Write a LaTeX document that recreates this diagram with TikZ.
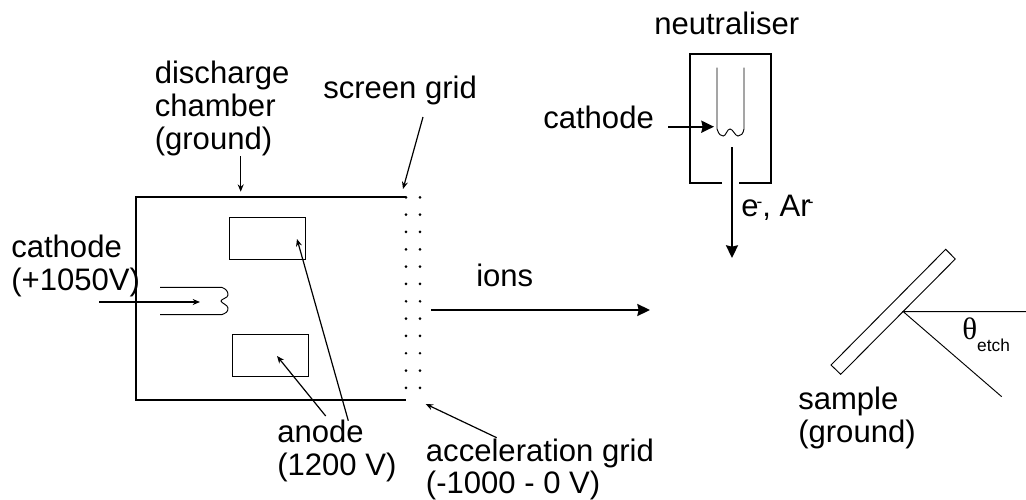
\documentclass[tikz,border=0pt]{standalone}
\usepackage{fontspec}
\setmainfont{Liberation Sans}
\newfontfamily\thetafont{Liberation Serif}
\usetikzlibrary{arrows.meta}
\newcommand{\chargemark}{\raisebox{6.5pt}{\fontsize{13}{13}\selectfont -}}
\tikzset{
	lbl/.style={inner sep=0pt, anchor=base west, align=left, font=\fontsize{23.3}{24.75}\selectfont},
	wall/.style={line width=1.6pt},
	thin line/.style={line width=0.7pt},
	pointer/.style={line width=0.9pt, -{Stealth[length=5.5pt,width=4.5pt]}},
	beam/.style={line width=1.5pt, -{Stealth[length=9.5pt,width=9pt,inset=1pt]}}
}
\begin{document}
\begin{tikzpicture}[x=0.75pt, y=-0.75pt]
	\useasboundingbox (0,0) rectangle (1026,500);

	% chamber
	\draw[wall] (406,197) -- (136,197) -- (136,400) -- (406,400);
	\foreach \row in {0,...,11} {
		\fill (406,197.3+17.33*\row) circle (1.1pt);
		\fill (420,197.3+17.33*\row) circle (1.1pt);
	}
	\node[draw, thin line, minimum width=56.5pt, minimum height=31.5pt, inner sep=0pt] (anodetop) at (267.5,238) {};
	\node[draw, thin line, minimum width=57pt, minimum height=31.5pt, inner sep=0pt] (anodebot) at (270,355.3) {};
	\draw[thin line] (160,287.3) -- (221.7,287.3) .. controls (226,289) and (228,291) .. (228,295) .. controls (228,298) and (221,299) .. (221,301) .. controls (221,303) and (228,305) .. (228,308) .. controls (228,312) and (226,313) .. (221.7,314.7) -- (160,314.7);

	% neutraliser
	\draw[wall] (722,183) -- (690,183) -- (690,54) -- (770.7,54) -- (770.7,183) -- (738.7,183);
	\draw[thin line] (717,67.7) -- (717,129) .. controls (719,135) and (721,136) .. (723.3,136) .. controls (726,136) and (727,129) .. (730,129) .. controls (733,129) and (735,136) .. (738,136) .. controls (741,136) and (743,134) .. (744,129) -- (744,67.7);

	% sample
	\draw[thin line] (945.7,249.3) -- (955.3,259) -- (840.7,374.3) -- (831,365) -- cycle;
	\coordinate (pivot) at (903.3,311.7);
	\coordinate (normalend) at (1026,311.7);
	\coordinate (tiltend) at (1001.7,396.7);
	\draw[thin line] (normalend) -- (pivot) -- (tiltend);

	% labels
	\node[lbl] (neutlabel) at (654,34) {neutraliser};
	\node[lbl] (chamberlabel) at (154.5,149) {discharge\\chamber\\(ground)};
	\node[lbl] (screenlabel) at (323,98) {screen grid};
	\node[lbl] (neutcathode) at (543,128) {cathode};
	\node[lbl] (cathodelabel) at (11,290) {cathode\\(+1050V)};
	\node[lbl] (electrons) at (741,216) {e\kern-1.5pt\chargemark, Ar\kern-2pt\chargemark};
	\node[lbl] (ionslabel) at (476,286) {ions};
	\node[lbl] (anodelabel) at (277,475) {anode\\(1200 V)};
	\node[lbl] (accellabel) at (425.7,493.5) {acceleration grid\\[-1pt](-1000 - 0 V)};
	\node[lbl] (samplelabel) at (798,442.5) {sample\\(ground)};
	\node[lbl] (thetalabel) at (962,339) {{\thetafont θ}\raisebox{-9pt}{\fontsize{13}{13}\selectfont etch}};

	% arrows
	\coordinate (chamberfrom) at (240.7,156);
	\coordinate (chamberto) at (240.7,191.7);
	\coordinate (screenfrom) at (423,117);
	\coordinate (screento) at (403,189);
	\coordinate (cathodefrom) at (99,302);
	\coordinate (cathodeto) at (200,302);
	\coordinate (anodefrom) at (348.3,420.7);
	\coordinate (anodeto) at (297,239);
	\coordinate (anodetwofrom) at (325.7,416);
	\coordinate (anodetwoto) at (277,356);
	\coordinate (accelfrom) at (496.7,437.7);
	\coordinate (accelto) at (425.7,404);
	\coordinate (ionsfrom) at (431,310);
	\coordinate (ionsto) at (650,310);
	\coordinate (neutfrom) at (668,126.7);
	\coordinate (neutto) at (714,126.7);
	\coordinate (beamfrom) at (732,147);
	\coordinate (beamto) at (732,258);
	\draw[pointer] (chamberfrom) -- (chamberto);
	\draw[pointer] (screenfrom) -- (screento);
	\draw[pointer] (cathodefrom) -- (cathodeto);
	\draw[pointer] (anodefrom) -- (anodeto);
	\draw[pointer] (anodetwofrom) -- (anodetwoto);
	\draw[pointer] (accelfrom) -- (accelto);
	\draw[beam] (ionsfrom) -- (ionsto);
	\draw[beam] (neutfrom) -- (neutto);
	\draw[beam] (beamfrom) -- (beamto);
\end{tikzpicture}
\end{document}
